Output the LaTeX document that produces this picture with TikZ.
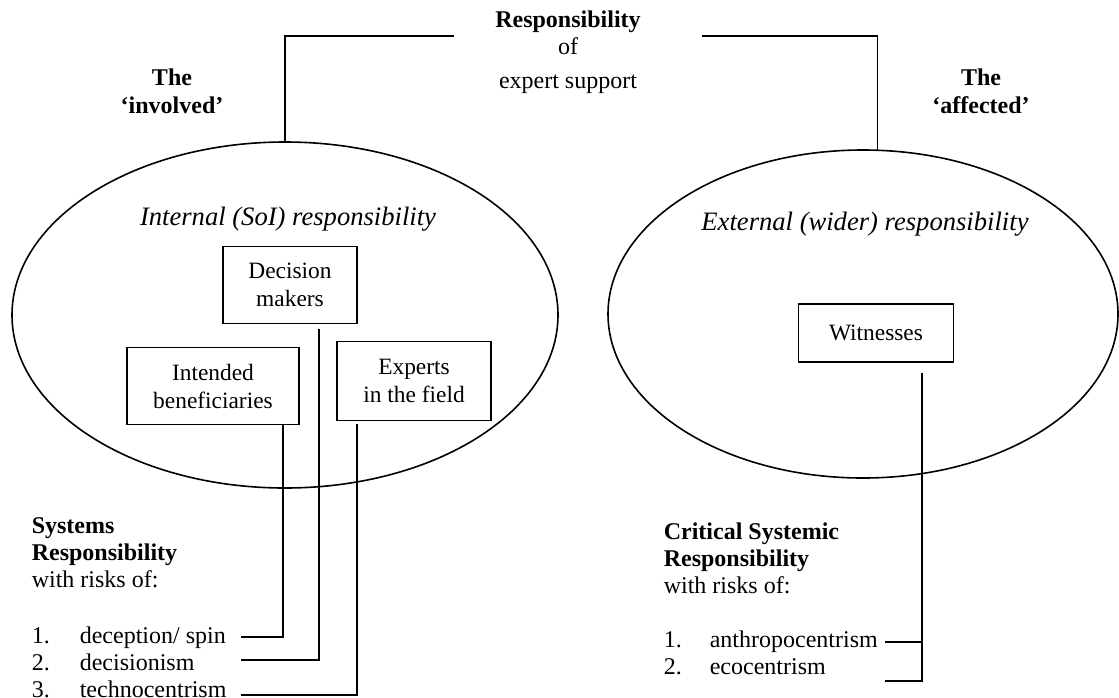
\documentclass[tikz,border=0pt]{standalone}
\usepackage{fontspec}
\setmainfont{Liberation Serif}
\usetikzlibrary{shapes.geometric}
\tikzset{
    box/.style={draw, align=center, inner sep=0pt, font=\fontsize{11.7}{13.5}\selectfont},
    oval/.style={draw, ellipse, inner sep=0pt, outer sep=0pt},
    item/.style={anchor=base west, inner sep=0pt},
    head/.style={anchor=base west, align=left, inner sep=0pt},
    area/.style={anchor=base, font=\fontsize{13.3}{15}\selectfont\itshape}
}
\begin{document}
\begin{tikzpicture}[x=0.5pt, y=-0.5pt, line width=0.8pt, font=\fontsize{12}{13.5}\selectfont]
            \useasboundingbox (0, 0) rectangle (1119, 697);

            \node[oval, minimum width=273pt, minimum height=173pt] (soi) at (285, 315) {};
            \node[oval, minimum width=255pt, minimum height=164pt] (ext) at (863, 314) {};

            \node[align=center, anchor=base] (resp) at (568, 88) {\textbf{Responsibility}\\of\\[3.5pt]expert support};
            \node[align=center, anchor=base] (inv) at (172, 113) {\textbf{The}\\[0.5pt]\textbf{‘involved’}};
            \node[align=center, anchor=base] (aff) at (981, 113) {\textbf{The}\\[0.5pt]\textbf{‘affected’}};

            \node[area] (soilbl) at (288, 225) {Internal (SoI) responsibility};
            \node[area] (extlbl) at (865, 230) {External (wider) responsibility};

            \node[box, minimum width=67pt, minimum height=38.5pt] (dm) at (290, 285) {Decision\\[0.5pt]makers};
            \node[box, minimum width=86pt, minimum height=38.5pt] (ib) at (213, 386) {Intended\\[0.5pt]beneficiaries};
            \node[box, minimum width=77pt, minimum height=39.5pt] (ef) at (414, 381) {Experts\\[0.5pt]in the field};
            \node[box, minimum width=77.5pt, minimum height=29pt] (wit) at (876, 333) {Witnesses};

            \node[head] (sys) at (31, 587) {\textbf{Systems}\\\textbf{Responsibility}\\with risks of:};
            \node[item] (spin) at (31, 643) {\makebox[24pt][l]{1.}deception/ spin};
            \node[item] (dec) at (31, 670) {\makebox[24pt][l]{2.}decisionism};
            \node[item] (tech) at (31, 697) {\makebox[24pt][l]{3.}technocentrism};

            \node[head] (csr) at (663, 593) {\textbf{Critical Systemic}\\\textbf{Responsibility}\\with risks of:};
            \node[item] (anth) at (663, 647) {\makebox[23pt][l]{1.}anthropocentrism};
            \node[item] (eco) at (663, 674) {\makebox[23pt][l]{2.}ecocentrism};

            \coordinate (tl) at (454, 36);
            \coordinate (tr) at (702, 36);
            \draw (tl) -| (soi.north);
            \draw (tr) -| (ext.85);

            \coordinate (d1) at (241, 637);
            \coordinate (d2) at (241, 660);
            \coordinate (d3) at (241, 695);
            \draw ([shift={(-17, 0)}]ib.south east) |- (d1);
            \draw ([shift={(29, 5)}]dm.south) |- (d2);
            \draw ([shift={(-57, 3)}]ef.south) |- (d3);

            \coordinate (wv) at ([shift={(46, 10)}]wit.south);
            \coordinate (w1) at (885, 642);
            \coordinate (w2) at (885, 681);
            \draw (wv) |- (w2);
            \draw (w1) -- (w1 -| wv);
        \end{tikzpicture}
\end{document}
